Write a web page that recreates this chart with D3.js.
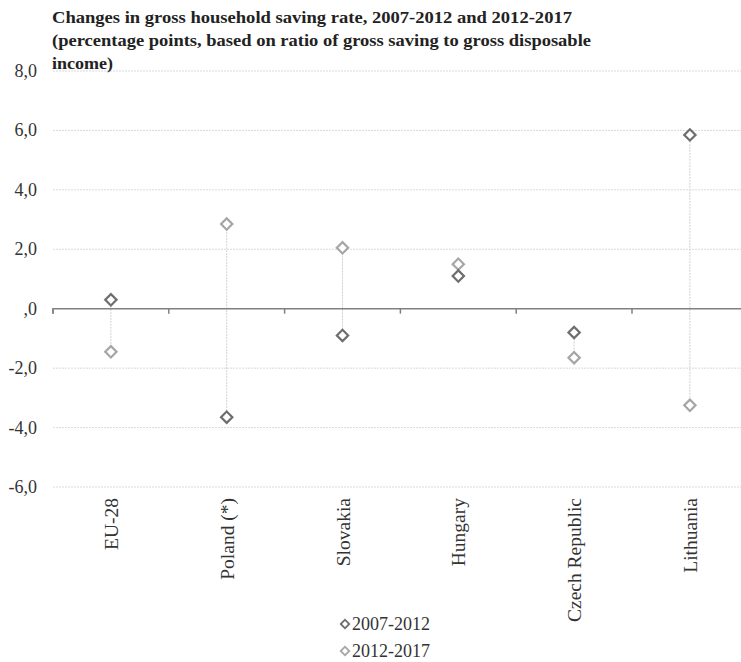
<!DOCTYPE html>
<html><head><meta charset="utf-8">
<script src="https://cdn.jsdelivr.net/npm/d3@7"></script>
<style>body{margin:0;background:#fff;} svg{display:block;} text{font-family:"Liberation Serif","Times New Roman",serif;}</style>
</head><body>
<svg id="c" width="741" height="662"></svg>
<script>
const categories = ["EU-28","Poland (*)","Slovakia","Hungary","Czech Republic","Lithuania"];
const s2007_2012 = [0.3,-3.65,-0.9,1.1,-0.8,5.85];
const s2012_2017 = [-1.45,2.85,2.05,1.5,-1.65,-3.25];
const seriesNames = ["2007-2012","2012-2017"];
const yTicks = [-6,-4,-2,0,2,4,6,8];
const titleLines = ["Changes in gross household saving rate, 2007-2012 and 2012-2017",
 "(percentage points, based on ratio of gross saving to gross disposable",
 "income)"];

const svg = d3.select("#c");
const left = 53, bandW = 115.8;
const x = d3.scaleBand().domain(categories).range([left, left + bandW*categories.length]).padding(0);
const y = d3.scaleLinear().domain([-6, 8]).range([487, 71]);
const fmt = v => v === 0 ? ",0" : d3.format(".1f")(v).replace(".", ",").replace("−","-");

// gridlines
svg.append("g").selectAll("line").data(yTicks.filter(v=>v!==0)).join("line")
  .attr("x1", left).attr("x2", 741)
  .attr("y1", d=>y(d)).attr("y2", d=>y(d))
  .attr("stroke", "#d9d9d9").attr("stroke-width", 1).attr("stroke-dasharray","2,1");

// y labels
svg.append("g").selectAll("text").data(yTicks).join("text")
  .attr("x", 37).attr("y", d=>y(d)+6)
  .attr("text-anchor","end")
  .attr("font-size", 18).attr("fill","#333")
  .text(fmt);

// connecting lines
svg.append("g").selectAll("line").data(categories).join("line")
  .attr("x1", d=>x(d)+x.bandwidth()/2).attr("x2", d=>x(d)+x.bandwidth()/2)
  .attr("y1", (d,i)=>y(s2007_2012[i])).attr("y2", (d,i)=>y(s2012_2017[i]))
  .attr("stroke","#d0d0d0").attr("stroke-width",1).attr("stroke-dasharray","2,1");

// zero axis
const axis = d3.axisBottom(x).tickSize(5).tickFormat("");
const gAx = svg.append("g").attr("transform", `translate(0,${y(0)})`).call(axis);
gAx.select(".domain").attr("stroke","#808080").attr("stroke-width",1.5).attr("d", `M${left},5V0H741`);
gAx.selectAll(".tick").remove();
svg.append("g").selectAll("line").data(categories).join("line")
  .attr("x1", d=>x(d)).attr("x2", d=>x(d))
  .attr("y1", y(0)).attr("y2", y(0)+5)
  .attr("stroke","#808080").attr("stroke-width",1.5);

// category labels
svg.append("g").selectAll("text").data(categories).join("text")
  .attr("transform", d=>`translate(${x(d)+x.bandwidth()/2+7},498) rotate(-90)`)
  .attr("text-anchor","end")
  .attr("font-size", 19.5).attr("fill","#333")
  .text(d=>d);

const diamond = d3.symbol().type(d3.symbolSquare).size(64);
function drawSeries(vals, color) {
  svg.append("g").selectAll("path").data(categories).join("path")
    .attr("d", diamond)
    .attr("transform", (d,i)=>`translate(${x(d)+x.bandwidth()/2},${y(vals[i])}) rotate(45)`)
    .attr("fill","#fff").attr("stroke", color).attr("stroke-width", 2.2);
}
drawSeries(s2012_2017, "#a6a6a6");
drawSeries(s2007_2012, "#6e6e6e");

// legend
const legColors = ["#6e6e6e","#a6a6a6"];
const leg = svg.append("g");
seriesNames.forEach((n,i)=>{
  const ly = 624 + i*27;
  leg.append("path").attr("d", d3.symbol().type(d3.symbolSquare).size(36))
    .attr("transform", `translate(345,${ly}) rotate(45)`)
    .attr("fill","#fff").attr("stroke", legColors[i]).attr("stroke-width",1.8);
  leg.append("text").attr("x",352).attr("y",ly+6)
    .attr("font-size",18).attr("fill","#333").text(n);
});

// title
svg.append("g").selectAll("text").data(titleLines).join("text")
  .attr("x", 52).attr("y", (d,i)=>23 + i*23)
  .attr("font-weight","bold").attr("font-size",16).attr("fill","#222")
  .attr("textLength", (d,i)=>[520,539,61][i]).attr("lengthAdjust","spacingAndGlyphs")
  .text(d=>d);
</script>
</body></html>
